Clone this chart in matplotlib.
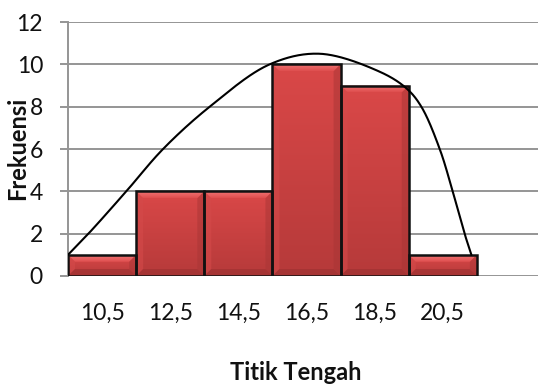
import numpy as np
import matplotlib
matplotlib.use("Agg")
import matplotlib.pyplot as plt
from matplotlib.patches import Polygon
from matplotlib.colors import LinearSegmentedColormap

# Class midpoints and frequencies
midpoints = [10.5, 12.5, 14.5, 16.5, 18.5, 20.5]
tick_labels = ["10,5", "12,5", "14,5", "16,5", "18,5", "20,5"]
frequencies = [1, 4, 4, 10, 9, 1]
class_width = 2.0

# Smoothed frequency curve (x, y) points
curve_x = [9.5, 10.1, 11.21, 12.29, 13.66, 15.42, 16.89, 18.65, 19.43, 19.87, 20.41, 20.79, 21.14, 21.34]
curve_y = [1.0, 2.0, 4.0, 6.0, 8.0, 10.0, 10.5, 9.65, 8.87, 8.0, 6.0, 4.0, 2.0, 1.0]

FONT = "Lato"
W, H, DPI = 538, 388, 100

fig = plt.figure(figsize=(W / DPI, H / DPI), dpi=DPI)
ax = fig.add_axes([68 / W, 1 - 276 / H, (545 - 68) / W, (276 - 22) / H])
ax.set_xlim(9.5, 23.5)
ax.set_ylim(0, 12)

grid_c = "#959595"
ax.set_yticks(np.arange(0, 13, 2))
ax.yaxis.grid(True, color=grid_c, lw=1.4, zorder=0)
ax.set_axisbelow(True)
for s in ["top", "right", "bottom"]:
    ax.spines[s].set_visible(False)
ax.spines["left"].set_color(grid_c)
ax.spines["left"].set_linewidth(1.4)
ax.tick_params(axis="y", length=6, width=1.4, color=grid_c, pad=12,
               labelsize=16.5)
ax.set_xticks(midpoints)
ax.set_xticklabels(tick_labels)
ax.tick_params(axis="x", length=0, pad=19, labelsize=16.5)
for lab in ax.get_xticklabels() + ax.get_yticklabels():
    lab.set_fontfamily(FONT)
    lab.set_color("#111111")

bars = ax.bar(midpoints, frequencies, width=class_width, facecolor="none",
              edgecolor="#111111", linewidth=1.8, zorder=4)

# pixel size of one data unit
px_x = (545 - 68) / 14.0
px_y = (276 - 22) / 12.0
bev_h = 7 / px_y
bev_w = 7 / px_x

body_cmap = LinearSegmentedColormap.from_list("body", ["#da4848", "#b63a3a"])
top_cmap = LinearSegmentedColormap.from_list("top", ["#f27676", "#de4e4e"])
grad = np.linspace(0, 1, 128).reshape(-1, 1)
for patch in bars:
    x0, y0 = patch.get_x(), patch.get_y()
    w, h = patch.get_width(), patch.get_height()
    im = ax.imshow(grad, cmap=body_cmap, aspect="auto",
                   extent=[x0, x0 + w, y0, y0 + h], origin="upper", zorder=2,
                   interpolation="bilinear")
    im.set_clip_path(patch)
    # bevel highlight along the top edge
    top = Polygon([[x0, y0 + h], [x0 + w, y0 + h],
                   [x0 + w - bev_w, y0 + h - bev_h], [x0 + bev_w, y0 + h - bev_h]],
                  closed=True, facecolor="none", edgecolor="none", zorder=3)
    ax.add_patch(top)
    imt = ax.imshow(grad, cmap=top_cmap, aspect="auto",
                    extent=[x0, x0 + w, y0 + h - bev_h, y0 + h], origin="upper",
                    zorder=3, interpolation="bilinear")
    imt.set_clip_path(top)
    left = Polygon([[x0, y0 + h], [x0 + bev_w, y0 + h - bev_h],
                    [x0 + bev_w, y0 + bev_h], [x0, y0]],
                   closed=True, facecolor="#d44a4a", alpha=0.6, edgecolor="none", zorder=3)
    ax.add_patch(left)
    right = Polygon([[x0 + w, y0 + h], [x0 + w - bev_w, y0 + h - bev_h],
                     [x0 + w - bev_w, y0 + bev_h], [x0 + w, y0]],
                    closed=True, facecolor="#a83636", alpha=0.5, edgecolor="none", zorder=3)
    ax.add_patch(right)
    bottom = Polygon([[x0, y0], [x0 + w, y0],
                      [x0 + w - bev_w, y0 + bev_h], [x0 + bev_w, y0 + bev_h]],
                     closed=True, facecolor="#a03232", alpha=0.7, edgecolor="none", zorder=3)
    ax.add_patch(bottom)


def catmull_rom(xs, ys, sx, sy, n=40, alpha=0.5):
    """Centripetal Catmull-Rom spline, computed in pixel space."""
    p = np.column_stack([np.asarray(xs) * sx, np.asarray(ys) * sy])
    p = np.vstack([2 * p[0] - p[1], p, 2 * p[-1] - p[-2]])
    out = []
    for i in range(1, len(p) - 2):
        P0, P1, P2, P3 = p[i - 1], p[i], p[i + 1], p[i + 2]
        t0 = 0.0
        t1 = t0 + np.linalg.norm(P1 - P0) ** alpha
        t2 = t1 + np.linalg.norm(P2 - P1) ** alpha
        t3 = t2 + np.linalg.norm(P3 - P2) ** alpha
        t = np.linspace(t1, t2, n, endpoint=False)[:, None]
        A1 = (t1 - t) / (t1 - t0) * P0 + (t - t0) / (t1 - t0) * P1
        A2 = (t2 - t) / (t2 - t1) * P1 + (t - t1) / (t2 - t1) * P2
        A3 = (t3 - t) / (t3 - t2) * P2 + (t - t2) / (t3 - t2) * P3
        B1 = (t2 - t) / (t2 - t0) * A1 + (t - t0) / (t2 - t0) * A2
        B2 = (t3 - t) / (t3 - t1) * A2 + (t - t1) / (t3 - t1) * A3
        C = (t2 - t) / (t2 - t1) * B1 + (t - t1) / (t2 - t1) * B2
        out.append(C)
    out.append(p[-2][None, :])
    pts = np.vstack(out)
    return pts[:, 0] / sx, pts[:, 1] / sy


cx, cy = catmull_rom(curve_x, curve_y, px_x, px_y)
ax.plot(cx, cy, color="black", lw=1.5, zorder=6, solid_capstyle="round")

fig.text(18 / W, 1 - 148 / H, "Frekuensi", rotation=90, ha="center", va="center",
         fontsize=17, fontweight="bold", fontfamily=FONT, color="#111111")
fig.text(296 / W, 1 - 373 / H, "Titik Tengah", ha="center", va="center",
         fontsize=17, fontweight="bold", fontfamily=FONT, color="#111111")

fig.savefig("out.png", dpi=DPI)
